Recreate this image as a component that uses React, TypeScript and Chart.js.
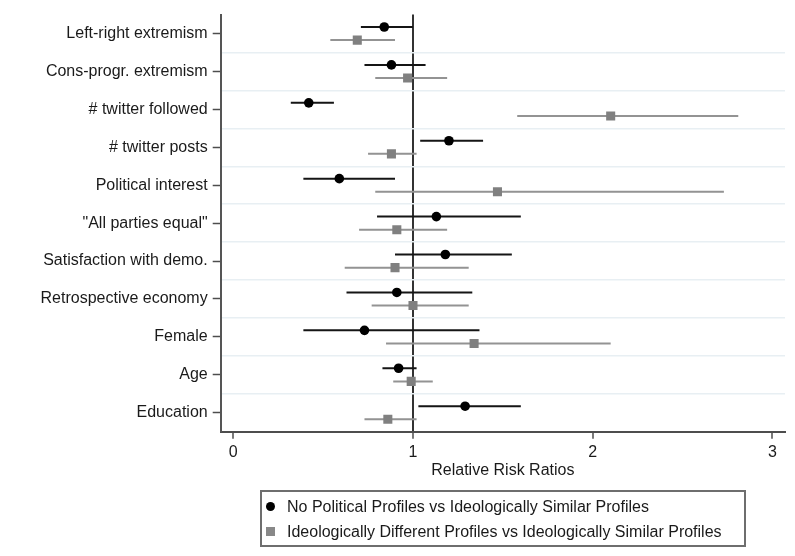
import React, { useEffect, useRef } from "react";
import { Chart, registerables } from "chart.js";

Chart.register(...registerables);

const categories = [
  "Left-right extremism",
  "Cons-progr. extremism",
  "# twitter followed",
  "# twitter posts",
  "Political interest",
  "\"All parties equal\"",
  "Satisfaction with demo.",
  "Retrospective economy",
  "Female",
  "Age",
  "Education",
];

// No Political Profiles vs Ideologically Similar Profiles
const noPolEst = [0.84, 0.88, 0.42, 1.2, 0.59, 1.13, 1.18, 0.91, 0.73, 0.92, 1.29];
const noPolLo = [0.71, 0.73, 0.32, 1.04, 0.39, 0.8, 0.9, 0.63, 0.39, 0.83, 1.03];
const noPolHi = [1.0, 1.07, 0.56, 1.39, 0.9, 1.6, 1.55, 1.33, 1.37, 1.02, 1.6];

// Ideologically Different Profiles vs Ideologically Similar Profiles
const diffEst = [0.69, 0.97, 2.1, 0.88, 1.47, 0.91, 0.9, 1.0, 1.34, 0.99, 0.86];
const diffLo = [0.54, 0.79, 1.58, 0.75, 0.79, 0.7, 0.62, 0.77, 0.85, 0.89, 0.73];
const diffHi = [0.9, 1.19, 2.81, 1.02, 2.73, 1.19, 1.31, 1.31, 2.1, 1.11, 1.02];

const xTicks = [0, 1, 2, 3];
const referenceValue = 1;
const seriesLabels = [
  "No Political Profiles vs Ideologically Similar Profiles",
  "Ideologically Different Profiles vs Ideologically Similar Profiles",
];

const FONT = '"Liberation Sans", Arial, Helvetica, sans-serif';
const OFF_A = -0.173;
const OFF_B = 0.173;

function ciData(lo: number[], hi: number[], off: number) {
  const out: any[] = [];
  lo.forEach((l, i) => {
    out.push({ x: l, y: i + off });
    out.push({ x: hi[i], y: i + off });
    out.push({ x: hi[i], y: null });
  });
  return out;
}

export default function App() {
  const ref = useRef<HTMLCanvasElement | null>(null);

  useEffect(() => {
    if (!ref.current) return;
    Chart.defaults.font.family = FONT;
    Chart.defaults.font.size = 16;
    Chart.defaults.color = "#1a1a1a";

    const chart = new Chart(ref.current, {
      type: "scatter",
      data: {
        datasets: [
          {
            label: seriesLabels[0],
            data: noPolEst.map((v, i) => ({ x: v, y: i + OFF_A })),
            pointStyle: "circle",
            pointRadius: 4.8,
            backgroundColor: "#000",
            borderColor: "#000",
            borderWidth: 0,
            order: 1,
          } as any,
          {
            label: seriesLabels[1],
            data: diffEst.map((v, i) => ({ x: v, y: i + OFF_B })),
            pointStyle: "rect",
            pointRadius: 6.4,
            backgroundColor: "#808080",
            borderColor: "#808080",
            borderWidth: 0,
            order: 2,
          } as any,
          {
            label: "ci-a",
            data: ciData(noPolLo, noPolHi, OFF_A),
            showLine: true,
            spanGaps: false,
            pointRadius: 0,
            borderColor: "#151515",
            borderWidth: 2,
            order: 3,
          } as any,
          {
            label: "ci-b",
            data: ciData(diffLo, diffHi, OFF_B),
            showLine: true,
            spanGaps: false,
            pointRadius: 0,
            borderColor: "#939393",
            borderWidth: 2,
            order: 4,
          } as any,
        ],
      },
      options: {
        animation: false,
        responsive: false,
        layout: { padding: { top: 13.3, left: 0, right: 10, bottom: 72.3 } },
        plugins: { legend: { display: false }, tooltip: { enabled: false } },
        scales: {
          x: {
            type: "linear",
            min: -0.07,
            max: 3.07,
            afterBuildTicks: (s: any) => {
              s.ticks = xTicks.map((v) => ({ value: v }));
            },
            afterFit: (s: any) => {
              s.height = 52;
            },
            ticks: {
              autoSkip: false,
              padding: 4,
              color: "#1a1a1a",
              callback: (v: any) => String(v),
            },
            grid: {
              drawOnChartArea: true,
              color: (ctx: any) =>
                ctx.tick && ctx.tick.value === referenceValue ? "#333" : "rgba(0,0,0,0)",
              lineWidth: 2,
              tickColor: "#4d4d4d",
              tickWidth: 1.5,
              tickLength: 7,
            },
            border: { display: true, color: "#4d4d4d", width: 2 },
            title: {
              display: true,
              text: "Relative Risk Ratios",
              color: "#1a1a1a",
              font: { size: 16 },
              padding: { top: 0, bottom: 4 },
            },
          },
          y: {
            type: "linear",
            position: "left",
            min: -0.5,
            max: 10.5,
            reverse: true,
            afterBuildTicks: (s: any) => {
              s.ticks = categories.map((_, i) => ({ value: i }));
            },
            afterFit: (s: any) => {
              s.width = 220.7;
            },
            ticks: {
              autoSkip: false,
              padding: 5,
              color: "#1a1a1a",
              callback: (v: any) => categories[Math.round(Number(v))] ?? "",
            },
            grid: {
              drawOnChartArea: false,
              color: "#4d4d4d",
              tickColor: "#4d4d4d",
              tickWidth: 1.5,
              tickLength: 8,
            },
            border: { display: true, color: "#555", width: 2 },
          },
          yg: {
            type: "linear",
            position: "right",
            min: -0.5,
            max: 10.5,
            reverse: true,
            afterBuildTicks: (s: any) => {
              s.ticks = categories.slice(1).map((_, i) => ({ value: i + 0.5 }));
            },
            afterFit: (s: any) => {
              s.width = 0;
            },
            ticks: { display: false },
            grid: {
              drawOnChartArea: true,
              drawTicks: false,
              color: "#e8eff3",
              lineWidth: 1.5,
            },
            border: { display: false },
          },
        },
      } as any,
    });
    return () => chart.destroy();
  }, []);

  const textStyle: React.CSSProperties = {
    position: "absolute",
    left: 25,
    fontFamily: FONT,
    fontSize: 16,
    lineHeight: "19px",
    color: "#1a1a1a",
    whiteSpace: "nowrap",
  };

  return (
    <div style={{ position: "fixed", left: 0, top: 0, width: 795, height: 556, background: "#fff" }}>
      <canvas ref={ref} width={795} height={556} style={{ display: "block" }} />
      <div
        style={{
          position: "absolute",
          left: 260,
          top: 490,
          width: 486,
          height: 57,
          boxSizing: "border-box",
          border: "2px solid #6e6e6e",
        }}
      >
        <span
          style={{
            position: "absolute",
            left: 3.5,
            top: 10.2,
            width: 9,
            height: 9,
            borderRadius: "50%",
            background: "#000",
          }}
        />
        <span style={{ ...textStyle, top: 5.2 }}>{seriesLabels[0]}</span>
        <span
          style={{
            position: "absolute",
            left: 3.5,
            top: 35.2,
            width: 9,
            height: 9,
            background: "#888",
          }}
        />
        <span style={{ ...textStyle, top: 30.2 }}>{seriesLabels[1]}</span>
      </div>
    </div>
  );
}
